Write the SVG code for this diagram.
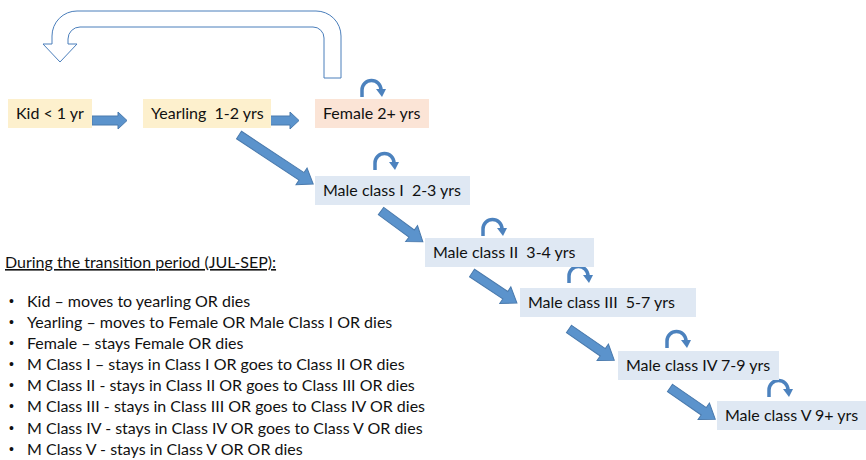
<svg xmlns="http://www.w3.org/2000/svg" width="866" height="460" viewBox="0 0 866 460">
<style>
.t{font-family:Lato,"Liberation Sans",sans-serif;font-size:16px;fill:#111}
.b{font-family:"Liberation Sans",sans-serif;font-size:14px;fill:#111}
.y{fill:#FDF0CD}
.f{fill:#FBE4D6}
.m{fill:#DFE8F3}
.ba{fill:#5B93CC;stroke:#4A7AAD;stroke-width:1}
.lp{fill:none;stroke:#4C82BE;stroke-width:3.5}
.lh{fill:#4C82BE}
</style>
<defs>
<g id="loop">
<path class="lp" d="M0,0 V-7 A9.5,9.5 0 0 1 19,-7"/>
<polygon class="lh" points="14,-8 24,-8 20,0"/>
</g>
</defs>
<rect width="866" height="460" fill="#fff"/>
<g id="connectors">
<path d="M341,78 V36 A25,25 0 0 0 316,11 H77 A25,25 0 0 0 52,36 V44 H43 L60,62 L77,44 H68 V39 A12,12 0 0 1 80,27 H313 A11,11 0 0 1 324,38 V78 Z" fill="#fff" stroke="#4A7EBB" stroke-width="1"/>
<polygon class="ba" points="92,116 118,116 118,112 127,120.5 118,129 118,125 92,125"/>
<polygon class="ba" points="263,116 290,116 290,112 299,120.5 290,129 290,125 263,125"/>
<polygon class="ba" transform="translate(239,135) rotate(33.5)" points="0,-4.5 75,-4.5 75,-10 89,0 75,10 75,4.5 0,4.5"/>
<polygon class="ba" transform="translate(381,211) rotate(36.4)" points="0,-4.5 38,-4.5 38,-10 52,0 38,10 38,4.5 0,4.5"/>
<polygon class="ba" transform="translate(472,273) rotate(33.7)" points="0,-4.5 40,-4.5 40,-10 54,0 40,10 40,4.5 0,4.5"/>
<polygon class="ba" transform="translate(569,329) rotate(34.6)" points="0,-4.5 41,-4.5 41,-10 55,0 41,10 41,4.5 0,4.5"/>
<polygon class="ba" transform="translate(670,388) rotate(34.6)" points="0,-4.5 41,-4.5 41,-10 55,0 41,10 41,4.5 0,4.5"/>
<use href="#loop" x="362" y="97"/>
<use href="#loop" x="375" y="170"/>
<use href="#loop" x="483" y="236"/>
<use href="#loop" x="569" y="283"/>
<use href="#loop" x="667" y="348"/>
<use href="#loop" x="769" y="397"/>
</g>
<g id="kid"><rect class="y" x="8" y="99" width="84" height="29"/><text class="t" x="16" y="119">Kid &lt; 1 yr</text></g>
<g id="yearling"><rect class="y" x="143" y="99" width="128" height="29"/><text class="t" x="151" y="119" xml:space="preserve">Yearling  1-2 yrs</text></g>
<g id="female"><rect class="f" x="315" y="99" width="114" height="29"/><text class="t" x="323" y="119">Female 2+ yrs</text></g>
<g id="male1"><rect class="m" x="315" y="176" width="155" height="29"/><text class="t" x="323" y="196" xml:space="preserve">Male class I  2-3 yrs</text></g>
<g id="male2"><rect class="m" x="425" y="238" width="169" height="29"/><text class="t" x="433" y="258" xml:space="preserve">Male class II  3-4 yrs</text></g>
<g id="male3"><rect class="m" x="520" y="288" width="176" height="29"/><text class="t" x="528" y="308" xml:space="preserve">Male class III  5-7 yrs</text></g>
<g id="male4"><rect class="m" x="618" y="351" width="161" height="29"/><text class="t" x="626" y="371">Male class IV 7-9 yrs</text></g>
<g id="male5"><rect class="m" x="717" y="401" width="149" height="29"/><text class="t" x="725" y="421">Male class V 9+ yrs</text></g>
<g id="notes">
<text class="t" x="5" y="268" text-decoration="underline">During the transition period (JUL-SEP):</text>
<g class="b"><text x="9" y="306">•</text><text x="9" y="327">•</text><text x="9" y="348">•</text><text x="9" y="369">•</text><text x="9" y="390">•</text><text x="9" y="411">•</text><text x="9" y="433">•</text><text x="9" y="454">•</text></g>
<g class="t">
<text x="27" y="307">Kid – moves to yearling OR dies</text>
<text x="27" y="328">Yearling – moves to Female OR Male Class I OR dies</text>
<text x="27" y="349">Female – stays Female OR dies</text>
<text x="27" y="370">M Class I – stays in Class I OR goes to Class II OR dies</text>
<text x="27" y="391">M Class II - stays in Class II OR goes to Class III OR dies</text>
<text x="27" y="412">M Class III - stays in Class III OR goes to Class IV OR dies</text>
<text x="27" y="434">M Class IV - stays in Class IV OR goes to Class V OR dies</text>
<text x="27" y="455">M Class V - stays in Class V OR OR dies</text>
</g>
</g>
</svg>
